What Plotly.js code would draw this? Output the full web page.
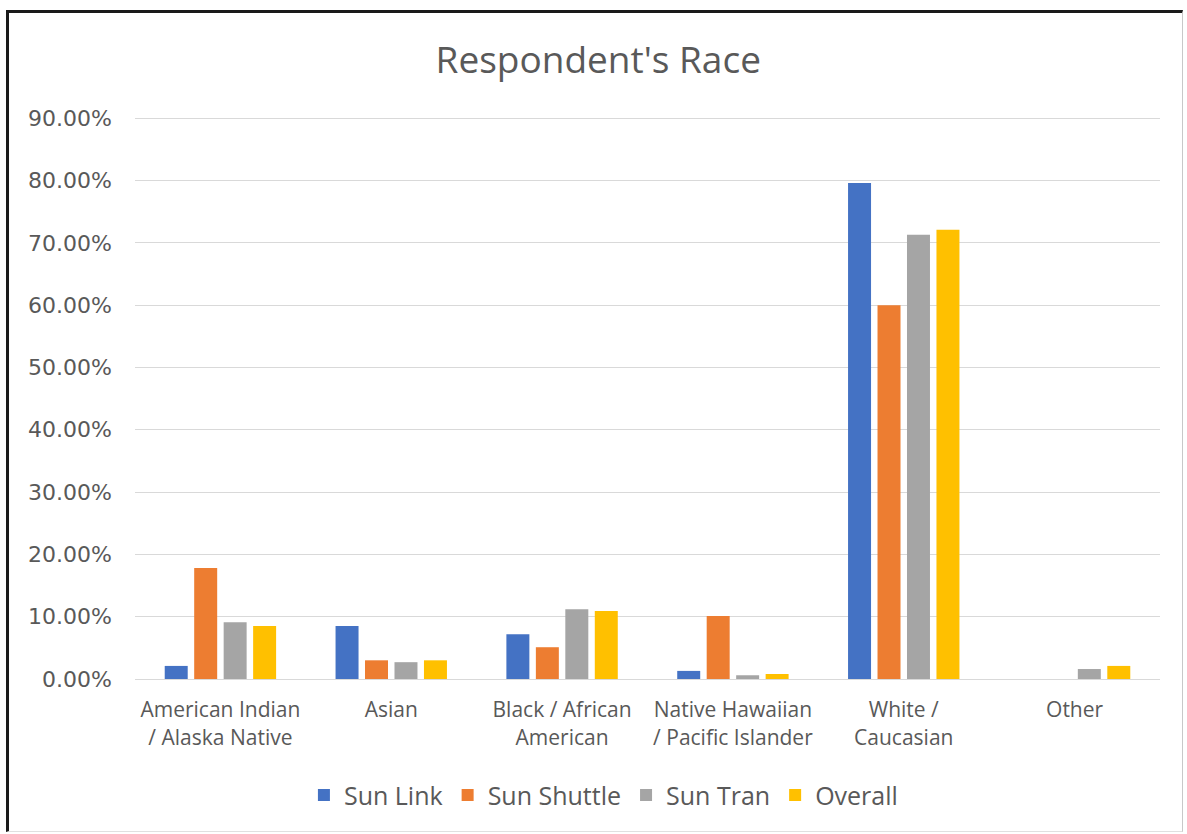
<!DOCTYPE html>
<html>
<head>
<meta charset="utf-8">
<script src="https://cdn.plot.ly/plotly-3.0.1.min.js"></script>
<style>
  html, body { margin: 0; padding: 0; background: #fff; }
  #wrap { position: relative; width: 1187px; height: 834px; }
  #chart { width: 1187px; height: 834px; }
  #frame { position: absolute; left: 6px; top: 10px; width: 1177px; height: 822px;
           border-left: 3px solid #1a1a1a; border-top: 3px solid #1a1a1a;
           border-right: 1px solid #c8c8c8; border-bottom: 1px solid #e0e0e0;
           box-sizing: border-box; pointer-events: none; }
</style>
</head>
<body>
<div id="wrap">
  <div id="chart"></div>
  <div id="frame"></div>
</div>
<script>
const categories = [
  "American Indian<br>/ Alaska Native",
  "Asian",
  "Black / African<br>American",
  "Native Hawaiian<br>/ Pacific Islander",
  "White /<br>Caucasian",
  "Other"
];
const seriesNames = ["Sun Link", "Sun Shuttle", "Sun Tran", "Overall"];
const sunLink    = [0.021, 0.085, 0.072, 0.013, 0.796, 0.000];
const sunShuttle = [0.178, 0.030, 0.051, 0.101, 0.600, 0.000];
const sunTran    = [0.091, 0.027, 0.112, 0.006, 0.713, 0.016];
const overall    = [0.085, 0.030, 0.109, 0.008, 0.721, 0.021];
const colors = ["#4472C4", "#ED7D31", "#A5A5A5", "#FFC000"];
const yTickVals = [0, 0.1, 0.2, 0.3, 0.4, 0.5, 0.6, 0.7, 0.8, 0.9];

const values = [sunLink, sunShuttle, sunTran, overall];
const traces = values.map((v, i) => ({
  type: "bar",
  name: seriesNames[i],
  x: categories,
  y: v,
  marker: { color: colors[i] },
  hoverinfo: "x+y+name"
}));

const layout = {
  width: 1187,
  height: 834,
  paper_bgcolor: "#ffffff",
  plot_bgcolor: "#ffffff",
  margin: { l: 135, r: 27, t: 112, b: 155 },
  title: {
    text: "Respondent's Race",
    font: { family: "Open Sans, sans-serif", size: 37, color: "#595959" },
    x: 0.504, xanchor: "center",
    y: 0.928, yanchor: "middle"
  },
  barmode: "group",
  bargap: 0.31,
  bargroupgap: 0.22,
  xaxis: {
    type: "category",
    tickfont: { family: "Open Sans, sans-serif", size: 21, color: "#595959" },
    showline: true,
    linecolor: "#d9d9d9",
    linewidth: 1,
    ticks: "",
    showgrid: false,
    ticklabelstandoff: 12,
    fixedrange: true
  },
  yaxis: {
    range: [0, 0.91],
    tickvals: yTickVals,
    tickformat: ".2%",
    tickfont: { family: "DejaVu Sans, sans-serif", size: 22, color: "#595959" },
    showgrid: true,
    gridcolor: "#d9d9d9",
    gridwidth: 1,
    zeroline: false,
    showline: false,
    ticks: "",
    ticklabelstandoff: 22,
    fixedrange: true
  },
  legend: {
    orientation: "h",
    x: 0.457, xanchor: "center",
    y: -0.205, yanchor: "middle",
    font: { family: "Open Sans, sans-serif", size: 25, color: "#595959" },
    itemwidth: 30,
    traceorder: "normal"
  },
  showlegend: true
};

Plotly.newPlot("chart", traces, layout, { displayModeBar: false, staticPlot: true });
</script>
</body>
</html>
